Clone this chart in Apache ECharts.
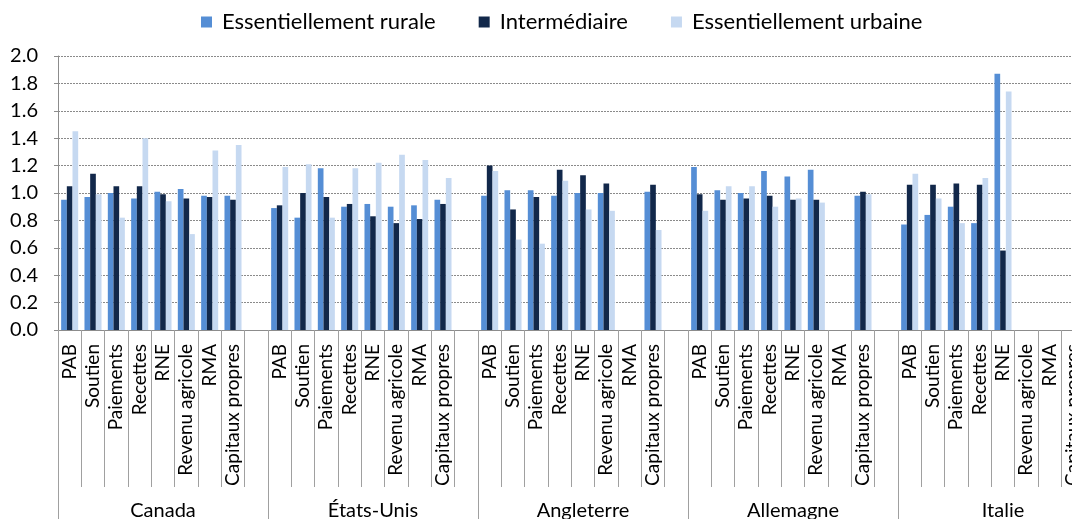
<!doctype html>
<html>
<head>
<meta charset="utf-8">
<title></title>
<script src="https://cdn.jsdelivr.net/npm/echarts@6/dist/echarts.min.js"></script>
</head>
<body style="margin:0">
<div id="chart" style="width: 1072px; height: 519px;"></div>
<script>
var countries = ['Canada', 'États-Unis', 'Angleterre', 'Allemagne', 'Italie'];
var measures = ['PAB', 'Soutien', 'Paiements', 'Recettes', 'RNE', 'Revenu agricole', 'RMA', 'Capitaux propres'];
var yTicks = [0, 0.2, 0.4, 0.6, 0.8, 1.0, 1.2, 1.4, 1.6, 1.8, 2.0];

// one row per country, one value per measure (null = no bar)
var rurale = [
    [0.95, 0.97, 1.00, 0.96, 1.01, 1.03, 0.98, 0.98],
    [0.89, 0.82, 1.18, 0.90, 0.92, 0.90, 0.91, 0.95],
    [0.98, 1.02, 1.02, 0.98, 1.00, 1.00, null, 1.01],
    [1.19, 1.02, 1.00, 1.16, 1.12, 1.17, null, 0.98],
    [0.77, 0.84, 0.90, 0.78, 1.87, null, null, null]
];
var intermediaire = [
    [1.05, 1.14, 1.05, 1.05, 0.99, 0.96, 0.97, 0.95],
    [0.91, 1.00, 0.97, 0.92, 0.83, 0.78, 0.81, 0.92],
    [1.20, 0.88, 0.97, 1.17, 1.13, 1.07, null, 1.06],
    [0.99, 0.95, 0.96, 0.98, 0.95, 0.95, null, 1.01],
    [1.06, 1.06, 1.07, 1.06, 0.58, null, null, null]
];
var urbaine = [
    [1.45, 0.99, 0.82, 1.40, 0.94, 0.70, 1.31, 1.35],
    [1.19, 1.21, 0.82, 1.18, 1.22, 1.28, 1.24, 1.11],
    [1.16, 0.66, 0.63, 1.09, 0.88, 0.87, null, 0.73],
    [0.87, 1.05, 1.05, 0.90, 0.96, 0.93, null, 0.99],
    [1.14, 0.96, 0.78, 1.11, 1.74, null, null, null]
];

// flatten: 8 measures + one empty slot per country
var labels = [];
function flat(rows) {
    var out = [];
    rows.forEach(function (r) {
        r.forEach(function (v) { out.push(v); });
        out.push(null);
    });
    return out;
}
countries.forEach(function () {
    measures.forEach(function (m) { labels.push(m); });
    labels.push('');
});

var font = 'Lato';
var myChart = echarts.init(document.getElementById('chart'));
var option = {
    animation: false,
    textStyle: {fontFamily: font},
    legend: {
        top: 6,
        left: 196,
        itemWidth: 11,
        itemHeight: 11,
        itemGap: 43,
        icon: 'rect',
        textStyle: {fontSize: 22, color: '#000', fontFamily: font, padding: [0, 0, 0, 5]}
    },
    // the plot runs past the right edge, as in the original
    grid: {left: 58, right: -36, top: 56, bottom: 189, outerBoundsMode: 'none'},
    xAxis: [
        {
            type: 'category',
            data: labels,
            axisLine: {lineStyle: {color: '#8c8c8c'}},
            axisTick: {show: true, interval: 0, length: 157, lineStyle: {color: '#a0a0a0'}},
            axisLabel: {interval: 0, rotate: 90, margin: 14, fontSize: 19, color: '#000', fontFamily: font}
        },
        {
            type: 'category',
            data: countries,
            position: 'bottom',
            axisLine: {show: false},
            axisTick: {show: true, interval: 0, length: 200, lineStyle: {color: '#a0a0a0'}},
            axisLabel: {interval: 0, margin: 171, fontSize: 20, color: '#000', fontFamily: font}
        }
    ],
    yAxis: {
        type: 'value',
        min: yTicks[0],
        max: yTicks[yTicks.length - 1],
        interval: 0.2,
        axisLine: {show: true, lineStyle: {color: '#8c8c8c'}},
        axisTick: {show: true, length: 4, lineStyle: {color: '#8c8c8c'}},
        axisLabel: {fontSize: 20, color: '#000', margin: 20, fontFamily: font,
            formatter: function (v) { return v.toFixed(1); }},
        splitLine: {lineStyle: {color: '#8a8a8a', type: [2, 1]}}
    },
    series: [
        {name: 'Essentiellement rurale', type: 'bar', data: flat(rurale),
         itemStyle: {color: '#558ed5'}, barGap: '0%', barCategoryGap: '27%'},
        {name: 'Intermédiaire', type: 'bar', data: flat(intermediaire),
         itemStyle: {color: '#12284a'}, barGap: '0%', barCategoryGap: '27%'},
        {name: 'Essentiellement urbaine', type: 'bar', data: flat(urbaine),
         itemStyle: {color: '#c6d9f1'}, barGap: '0%', barCategoryGap: '27%'}
    ]
};
myChart.setOption(option);
</script>
</body>
</html>
